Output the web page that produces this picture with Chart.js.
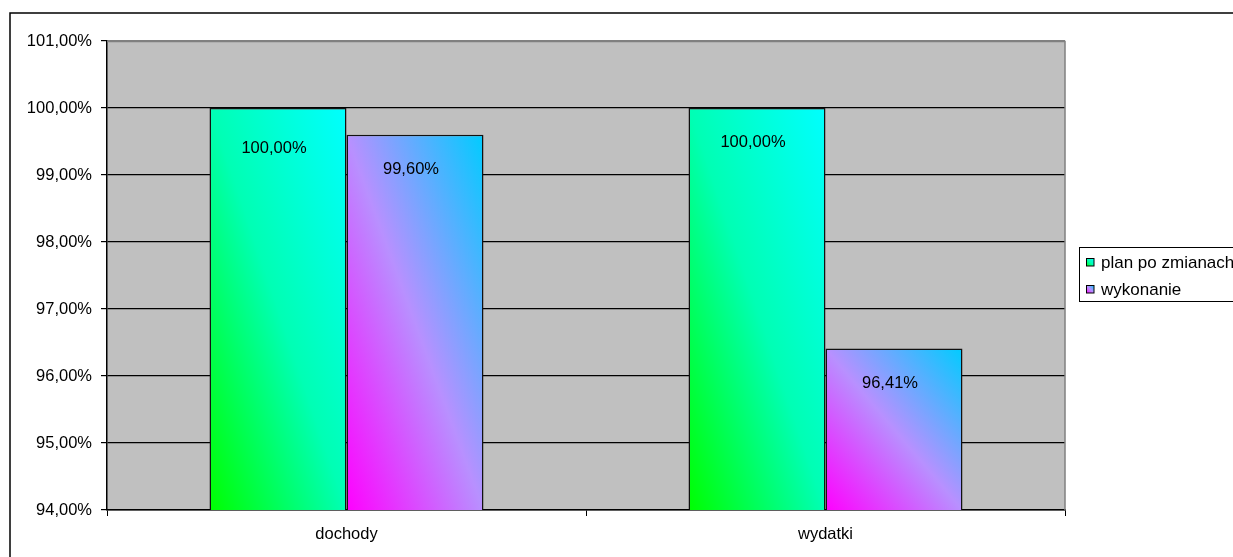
<!DOCTYPE html>
<html>
<head>
<meta charset="utf-8">
<script src="https://cdn.jsdelivr.net/npm/chart.js@4.4.1/dist/chart.umd.min.js"></script>
<style>
  body { margin: 0; background: #fff; }
  #wrap { width: 1233px; height: 557px; position: relative; }
</style>
</head>
<body>
<div id="wrap"><canvas id="chart"></canvas></div>
<script>
const categories = ['dochody', 'wydatki'];
const seriesNames = ['plan po zmianach', 'wykonanie'];
const planValues = [100.00, 100.00];
const wykonanieValues = [99.60, 96.41];
const yTicks = [94, 95, 96, 97, 98, 99, 100, 101];

const CAT_PCT = 0.572;
// gradient stops, bottom-left -> top-right of each bar
const planStops = [[0, '#00ff00'], [0.5, '#00ffb4'], [1, '#00ffff']];
const wykStops = [[0, '#ff00ff'], [0.5, '#b890ff'], [1, '#00ccff']];

const fmt = v => v.toFixed(2).replace('.', ',') + '%';

function makeGrad(ctx, left, top, w, h, stops) {
  // t = (u + (1 - v)) / 2 in bar-normalised coords, like the diagonal fill in the original
  const gx = 1 / (2 * w), gy = -1 / (2 * h);
  const g2 = gx * gx + gy * gy;
  const bottom = top + h;
  const grad = ctx.createLinearGradient(left, bottom, left + gx / g2, bottom + gy / g2);
  stops.forEach(s => grad.addColorStop(s[0], s[1]));
  return grad;
}

function barFill(stops) {
  return function (context) {
    const chart = context.chart;
    if (!chart.chartArea || context.type !== 'data') return stops[1][1];
    const xs = chart.scales.x, ys = chart.scales.y;
    const n = chart.data.datasets.length;
    const catW = xs.width / chart.data.labels.length;
    const groupW = catW * CAT_PCT;
    const barW = groupW / n;
    const left = xs.getPixelForValue(context.dataIndex) - groupW / 2 + context.datasetIndex * barW;
    const top = ys.getPixelForValue(context.raw);
    const bottom = ys.getPixelForValue(ys.min);
    return makeGrad(chart.ctx, left, top, barW, bottom - top, stops);
  };
}

const frame = {
  id: 'frame',
  beforeDraw(chart) {
    const { ctx, chartArea: a } = chart;
    ctx.save();
    ctx.fillStyle = '#c0c0c0';
    ctx.fillRect(a.left, a.top, a.right - a.left, a.bottom - a.top);
    ctx.strokeStyle = '#000';
    ctx.lineWidth = 1.5;
    ctx.strokeRect(10, 13, 1300, 600);
    ctx.restore();
  },
  afterDraw(chart) {
    const { ctx, chartArea: a } = chart;
    ctx.save();
    ctx.strokeStyle = '#808080';
    ctx.lineWidth = 1.5;
    ctx.beginPath();
    ctx.moveTo(a.left, a.top + 0.5);
    ctx.lineTo(a.right, a.top + 0.5);
    ctx.lineTo(a.right, a.bottom);
    ctx.stroke();
    ctx.restore();
  }
};

const valueLabels = {
  id: 'valueLabels',
  afterDatasetsDraw(chart) {
    const ctx = chart.ctx;
    ctx.save();
    ctx.font = '16.5px "Liberation Sans", Arial, sans-serif';
    ctx.fillStyle = '#000';
    ctx.textAlign = 'center';
    ctx.textBaseline = 'middle';
    chart.data.datasets.forEach((ds, i) => {
      chart.getDatasetMeta(i).data.forEach((bar, j) => {
        // first label sits a little lower in the original
        const dy = (i === 0 && j === 0) ? 40.5 : 34.5;
        ctx.fillText(fmt(ds.data[j]), bar.x - 4, bar.y + dy);
      });
    });
    ctx.restore();
  }
};

const boxLegend = {
  id: 'boxLegend',
  afterDraw(chart) {
    const ctx = chart.ctx;
    ctx.save();
    ctx.strokeStyle = '#000';
    ctx.lineWidth = 1;
    ctx.strokeRect(1079.5, 247.5, 200, 54);
    ctx.font = '17px "Liberation Sans", Arial, sans-serif';
    ctx.textBaseline = 'middle';
    const stopsList = [planStops, wykStops];
    chart.data.datasets.forEach((ds, i) => {
      const cy = 262 + i * 27;
      ctx.fillStyle = makeGrad(ctx, 1086, cy - 4, 8, 8, stopsList[i]);
      ctx.fillRect(1086, cy - 4, 8, 8);
      ctx.strokeRect(1086.5, cy - 3.5, 7.5, 7.5);
      ctx.fillStyle = '#000';
      ctx.fillText(ds.label, 1101, cy + 1);
    });
    ctx.restore();
  }
};

Chart.defaults.font.family = '"Liberation Sans", Arial, sans-serif';
Chart.defaults.font.size = 16.5;
Chart.defaults.color = '#000';

new Chart(document.getElementById('chart'), {
  type: 'bar',
  data: {
    labels: categories,
    datasets: [{
      label: seriesNames[0],
      data: planValues,
      backgroundColor: barFill(planStops),
      borderColor: '#111',
      borderWidth: 1.5
    }, {
      label: seriesNames[1],
      data: wykonanieValues,
      backgroundColor: barFill(wykStops),
      borderColor: '#111',
      borderWidth: 1.5
    }]
  },
  options: {
    responsive: true,
    maintainAspectRatio: false,
    animation: false,
    events: [],
    categoryPercentage: CAT_PCT,
    barPercentage: 1,
    layout: { padding: { left: 0, top: 41, right: 168, bottom: 0 } },
    plugins: {
      legend: { display: false },
      tooltip: { enabled: false }
    },
    scales: {
      x: {
        grid: { drawOnChartArea: false, offset: true, tickLength: 6, color: '#000' },
        border: { color: '#000', width: 1.5 },
        ticks: { padding: 9 },
        afterFit(scale) { scale.height = 47; }
      },
      y: {
        min: yTicks[0],
        max: yTicks[yTicks.length - 1],
        afterBuildTicks(scale) { scale.ticks = yTicks.map(v => ({ value: v })); },
        grid: {
          color: c => (c.tick && c.tick.value === yTicks[yTicks.length - 1]) ? '#808080' : '#000',
          tickColor: '#000',
          tickLength: 6,
          lineWidth: 1.2
        },
        border: { color: '#000', width: 1.5 },
        ticks: { padding: 9, callback: v => fmt(v) },
        afterFit(scale) { scale.width = 107; }
      }
    }
  },
  plugins: [frame, valueLabels, boxLegend]
});
</script>
</body>
</html>
